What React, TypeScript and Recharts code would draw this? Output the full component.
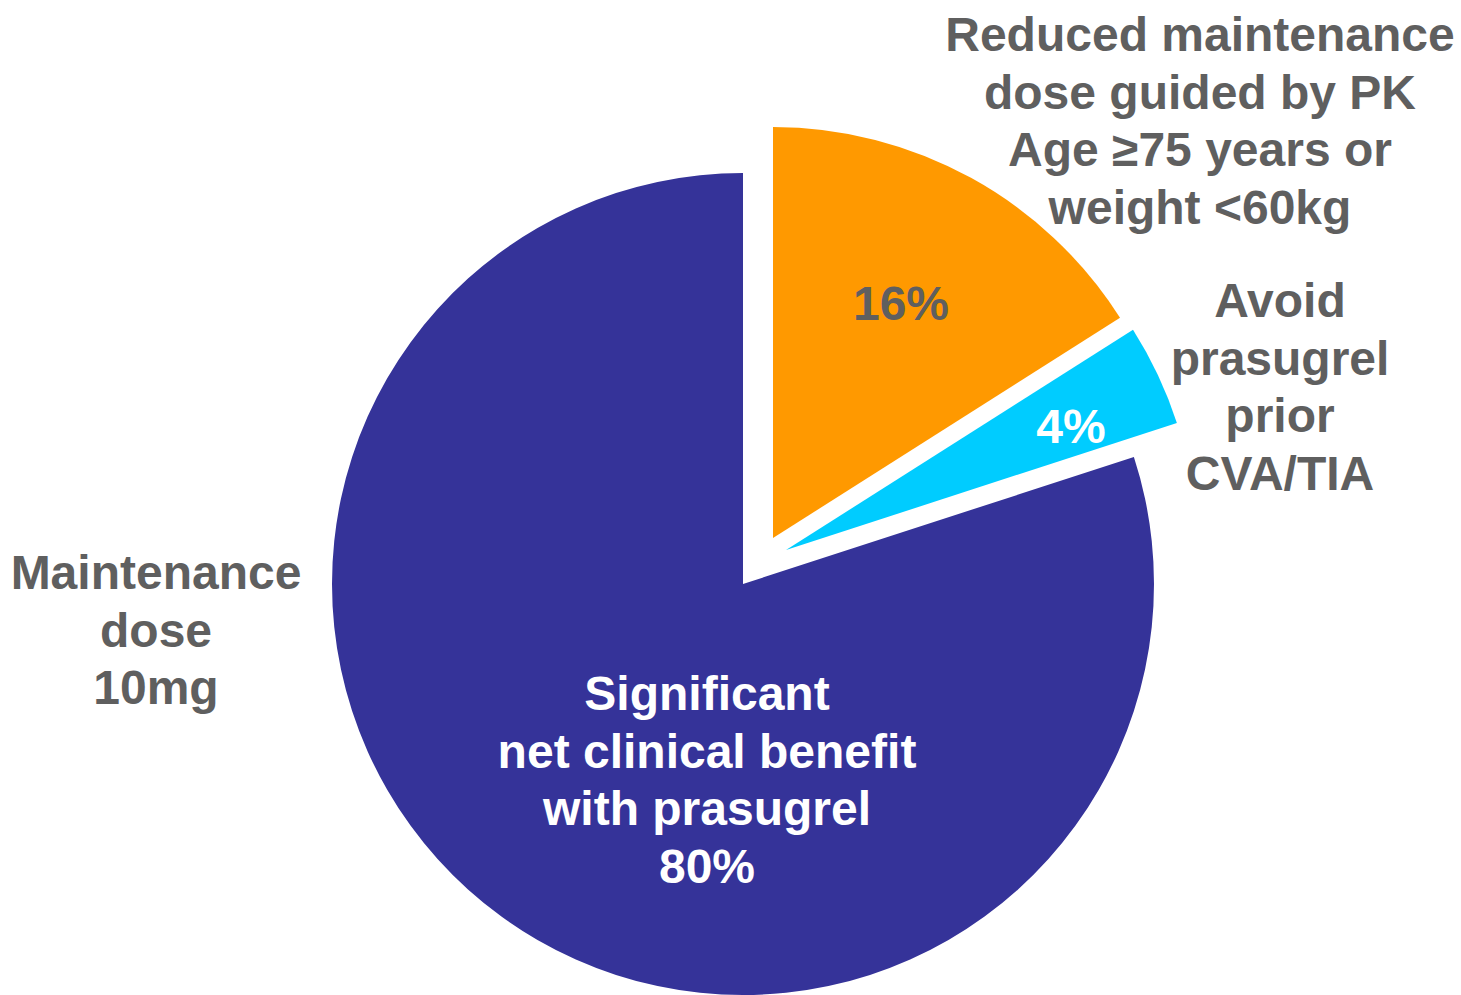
import { PieChart, Pie, Cell } from "recharts"

// slices, clockwise from 12 o'clock
const categories = ["Reduced maintenance dose", "Avoid prasugrel", "Maintenance dose 10mg"]
const shares = [16, 4, 80]
const insideText = [
  ["16%"],
  ["4%"],
  ["Significant", "net clinical benefit", "with prasugrel", "80%"],
]
const outsideText = [
  ["Reduced maintenance", "dose guided by PK", "Age \u226575 years or", "weight <60kg"],
  ["Avoid", "prasugrel", "prior", "CVA/TIA"],
  ["Maintenance", "dose", "10mg"],
]

const COLORS = ["#FF9900", "#00CCFF", "#353399"]
const INSIDE_COLORS = ["#5F5F5F", "#FFFFFF", "#FFFFFF"]
const GRAY = "#5F5F5F"
const FONT = "'Liberation Sans', Arial, sans-serif"

const W = 1461
const H = 995
const CX = 743
const CY = 584
const R = 411
const LINE = 57.5

// exploded slice offsets
const EXPLODE = [
  { dx: 30, dy: -46 },
  { dx: 43, dy: -34 },
  { dx: 0, dy: 0 },
]
// label anchors relative to each slice's own centre (first baseline)
const INSIDE_POS = [
  { x: 128, y: -218 },
  { x: 285, y: -107 },
  { x: -36, y: 126 },
]
const OUTSIDE_POS = [
  { x: 427, y: -487 },
  { x: 494, y: -233 },
  { x: -587, y: 5 },
]

const data = categories.map((name, i) => ({ name, value: shares[i] }))

function makeLabel(slice: number) {
  return (props: any) => {
    if (props.index !== slice) return <g />
    const cx = CX + EXPLODE[slice].dx
    const cy = CY + EXPLODE[slice].dy
    const ins = INSIDE_POS[slice]
    const out = OUTSIDE_POS[slice]
    return (
      <g fontFamily={FONT} fontWeight="bold" fontSize={48} textAnchor="middle">
        <text fill={INSIDE_COLORS[slice]}>
          {insideText[slice].map((t, k) => (
            <tspan key={k} x={cx + ins.x} y={cy + ins.y + k * LINE}>
              {t}
            </tspan>
          ))}
        </text>
        <text fill={GRAY}>
          {outsideText[slice].map((t, k) => (
            <tspan key={k} x={cx + out.x} y={cy + out.y + k * LINE}>
              {t}
            </tspan>
          ))}
        </text>
      </g>
    )
  }
}

export default function App() {
  return (
    <div style={{ position: "absolute", left: 0, top: 0, width: W, height: H, background: "#fff" }}>
      <PieChart width={W} height={H} margin={{ top: 0, right: 0, bottom: 0, left: 0 }}>
        {[0, 1, 2].map((slice) => (
          <Pie
            key={slice}
            data={data}
            dataKey="value"
            nameKey="name"
            cx={CX + EXPLODE[slice].dx}
            cy={CY + EXPLODE[slice].dy}
            outerRadius={R}
            startAngle={90}
            endAngle={-270}
            stroke="none"
            labelLine={false}
            label={makeLabel(slice)}
            isAnimationActive={false}
          >
            {data.map((d, i) => (
              <Cell key={d.name} fill={i === slice ? COLORS[i] : "none"} stroke="none" />
            ))}
          </Pie>
        ))}
      </PieChart>
    </div>
  )
}
